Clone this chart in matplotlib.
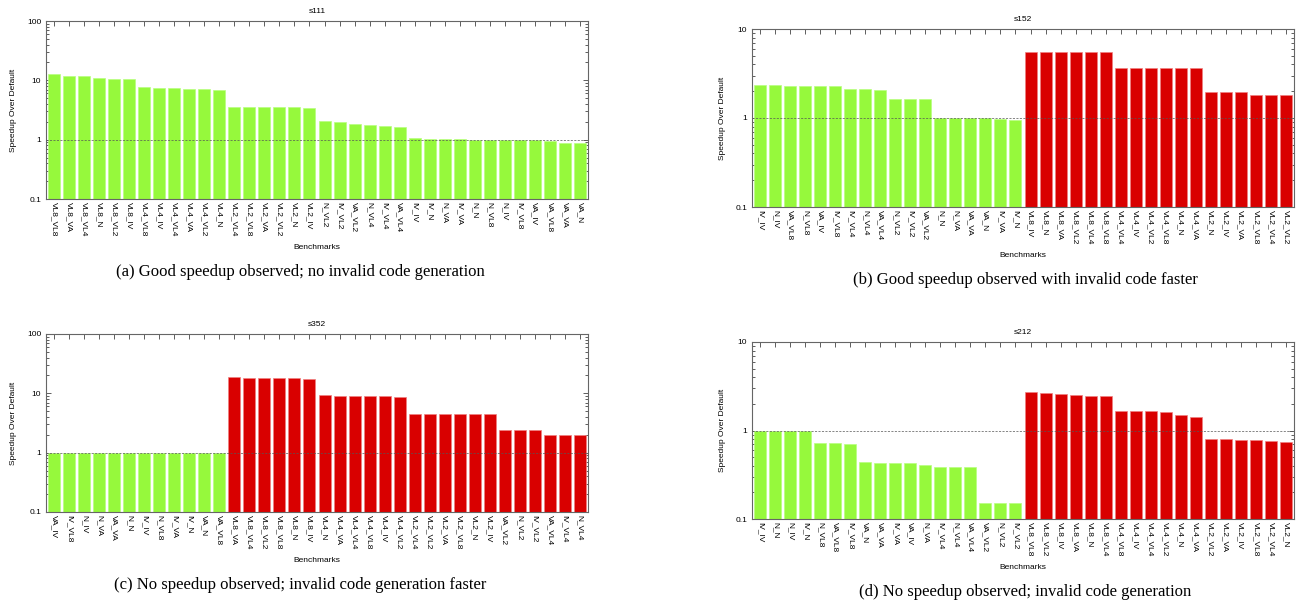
import numpy as np
import matplotlib.pyplot as plt
from matplotlib.ticker import LogLocator, NullFormatter

# Data
labels_a = ['VL8_VL8', 'VL8_VA', 'VL8_VL4', 'VL8_N', 'VL8_VL2', 'VL8_IV',
            'VL4_VL8', 'VL4_IV', 'VL4_VL4', 'VL4_VA', 'VL4_VL2', 'VL4_N',
            'VL2_VL4', 'VL2_VL8', 'VL2_VA', 'VL2_VL2', 'VL2_N', 'VL2_IV',
            'N_VL2', 'IV_VL2', 'VA_VL2', 'N_VL4', 'IV_VL4', 'VA_VL4',
            'IV_IV', 'IV_N', 'N_VA', 'IV_VA', 'N_N', 'N_VL8',
            'N_IV', 'IV_VL8', 'VA_IV', 'VA_VL8', 'VA_VA', 'VA_N']
values_a = [12.9, 12.0, 11.7, 11.0, 10.6, 10.4,
            7.6, 7.5, 7.3, 7.2, 7.2, 7.0,
            3.6, 3.55, 3.55, 3.55, 3.5, 3.45,
            2.06, 2.0, 1.81, 1.74, 1.72, 1.61,
            1.05, 1.04, 1.04, 1.01, 1.0, 1.0,
            1.0, 0.99, 0.98, 0.94, 0.89, 0.89]
n_green_a = 36

labels_b = ['IV_IV', 'N_IV', 'VA_VL8', 'N_VL8', 'VA_IV', 'IV_VL8',
            'IV_VL4', 'N_VL4', 'VA_VL4', 'N_VL2', 'IV_VL2', 'VA_VL2',
            'N_N', 'N_VA', 'VA_VA', 'VA_N', 'IV_VA', 'IV_N',
            'VL8_IV', 'VL8_N', 'VL8_VA', 'VL8_VL2', 'VL8_VL4', 'VL8_VL8',
            'VL4_VL4', 'VL4_IV', 'VL4_VL2', 'VL4_VL8', 'VL4_N', 'VL4_VA',
            'VL2_N', 'VL2_IV', 'VL2_VA', 'VL2_VL8', 'VL2_VL4', 'VL2_VL2']
values_b = [2.32, 2.32, 2.3, 2.3, 2.3, 2.27,
            2.1, 2.1, 2.08, 1.65, 1.65, 1.64,
            1.0, 1.0, 1.0, 1.0, 0.97, 0.95,
            5.56, 5.56, 5.56, 5.56, 5.56, 5.56,
            3.65, 3.65, 3.65, 3.65, 3.64, 3.64,
            1.96, 1.95, 1.94, 1.83, 1.83, 1.81]
n_green_b = 18

labels_c = ['VA_IV', 'IV_VL8', 'N_IV', 'N_VA', 'VA_VA', 'N_N',
            'IV_IV', 'N_VL8', 'IV_VA', 'IV_N', 'VA_N', 'VA_VL8',
            'VL8_VA', 'VL8_VL4', 'VL8_VL2', 'VL8_VL8', 'VL8_N', 'VL8_IV',
            'VL4_N', 'VL4_VA', 'VL4_VL4', 'VL4_VL8', 'VL4_IV', 'VL4_VL2',
            'VL2_VL4', 'VL2_VL2', 'VL2_VA', 'VL2_VL8', 'VL2_N', 'VL2_IV',
            'VA_VL2', 'N_VL2', 'IV_VL2', 'VA_VL4', 'IV_VL4', 'N_VL4']
values_c = [1.0] * 12 + [18.5, 18.3, 18.0, 17.8, 17.8, 17.3,
                         9.26, 9.1, 9.1, 9.0, 8.95, 8.8,
                         4.57, 4.57, 4.57, 4.57, 4.57, 4.57,
                         2.42, 2.37, 2.37, 1.97, 1.97, 1.95]
n_green_c = 12

labels_d = ['IV_IV', 'N_N', 'N_IV', 'IV_N', 'N_VL8', 'VA_VL8',
            'IV_VL8', 'VA_N', 'VA_VA', 'IV_VA', 'VA_IV', 'N_VA',
            'IV_VL4', 'N_VL4', 'VA_VL4', 'VA_VL2', 'N_VL2', 'IV_VL2',
            'VL8_VL8', 'VL8_VL2', 'VL8_IV', 'VL8_VA', 'VL8_N', 'VL8_VL4',
            'VL4_VL8', 'VL4_IV', 'VL4_VL4', 'VL4_VL2', 'VL4_N', 'VL4_VA',
            'VL2_VL2', 'VL2_VA', 'VL2_IV', 'VL2_VL8', 'VL2_VL4', 'VL2_N']
values_d = [1.0, 1.0, 1.0, 0.98, 0.73, 0.73,
            0.71, 0.44, 0.43, 0.43, 0.43, 0.41,
            0.39, 0.39, 0.39, 0.15, 0.15, 0.15,
            2.75, 2.63, 2.6, 2.5, 2.47, 2.45,
            1.66, 1.66, 1.66, 1.63, 1.5, 1.42,
            0.80, 0.80, 0.78, 0.78, 0.77, 0.74]
n_green_d = 18

titles = ['s111', 's152', 's352', 's212']
captions = ['(a) Good speedup observed; no invalid code generation',
            '(b) Good speedup observed with invalid code faster',
            '(c) No speedup observed; invalid code generation faster',
            '(d) No speedup observed; invalid code generation']
ytops = [100, 10, 100, 10]

GREEN = '#96F93C'
RED = '#D90000'
W, H = 1300, 605

plt.rcParams['font.family'] = ['Liberation Sans', 'DejaVu Sans']
fig = plt.figure(figsize=(W / 100, H / 100), dpi=100)


def px_axes(left, top, right, bottom):
    return fig.add_axes([left / W, 1 - bottom / H, (right - left) / W, (bottom - top) / H])


# axes boxes in pixels: left, top, right, bottom
boxes = [(46, 21, 588, 199), (752, 29, 1294, 207),
         (46, 334, 588, 512), (752, 342, 1294, 519)]
caption_pos = [(300, 272), (1025, 280), (300, 585), (1025, 592)]

panels = [(labels_a, values_a, n_green_a), (labels_b, values_b, n_green_b),
          (labels_c, values_c, n_green_c), (labels_d, values_d, n_green_d)]

for i, (labels, values, n_green) in enumerate(panels):
    ax = px_axes(*boxes[i])
    x = np.arange(len(labels))
    colors = [GREEN if k < n_green else RED for k in range(len(labels))]
    edges = ['#B8FF80' if k < n_green else '#F08080' for k in range(len(labels))]
    ax.bar(x, values, width=0.8, color=colors, edgecolor=edges, linewidth=0.5, zorder=2)
    ax.axhline(1, color='#555555', linestyle=(0, (3, 2)), linewidth=0.5, zorder=3)
    ax.set_yscale('log')
    ax.set_ylim(0.1, ytops[i])
    ax.set_xlim(-0.55, len(labels) - 0.45)
    ax.set_xticks(x)
    ax.set_xticklabels(labels, rotation=-90, fontsize=6)
    ax.yaxis.set_major_locator(LogLocator(base=10))
    ax.yaxis.set_minor_locator(LogLocator(base=10, subs=np.arange(2, 10)))
    ax.yaxis.set_minor_formatter(NullFormatter())
    ax.yaxis.set_major_formatter(plt.FuncFormatter(lambda v, p: '%g' % v))
    ax.tick_params(axis='both', which='both', direction='in', top=True, right=True,
                   labelsize=6, color='#444444', width=0.6)
    ax.tick_params(axis='both', which='major', length=3.5)
    ax.tick_params(axis='y', which='minor', length=2)
    ax.tick_params(axis='x', pad=2)
    for s in ax.spines.values():
        s.set_color('#666666')
        s.set_linewidth(0.8)
    ax.set_title(titles[i], fontsize=6, pad=6)
    ax.set_xlabel('Benchmarks', fontsize=6, labelpad=6)
    ax.set_ylabel('Speedup Over Default', fontsize=6, labelpad=7)
    cx, cy = caption_pos[i]
    fig.text(cx / W, 1 - cy / H, captions[i], ha='center', va='center',
             fontsize=12, family=['Liberation Serif', 'DejaVu Serif'])

fig.savefig('out.png', dpi=100)
